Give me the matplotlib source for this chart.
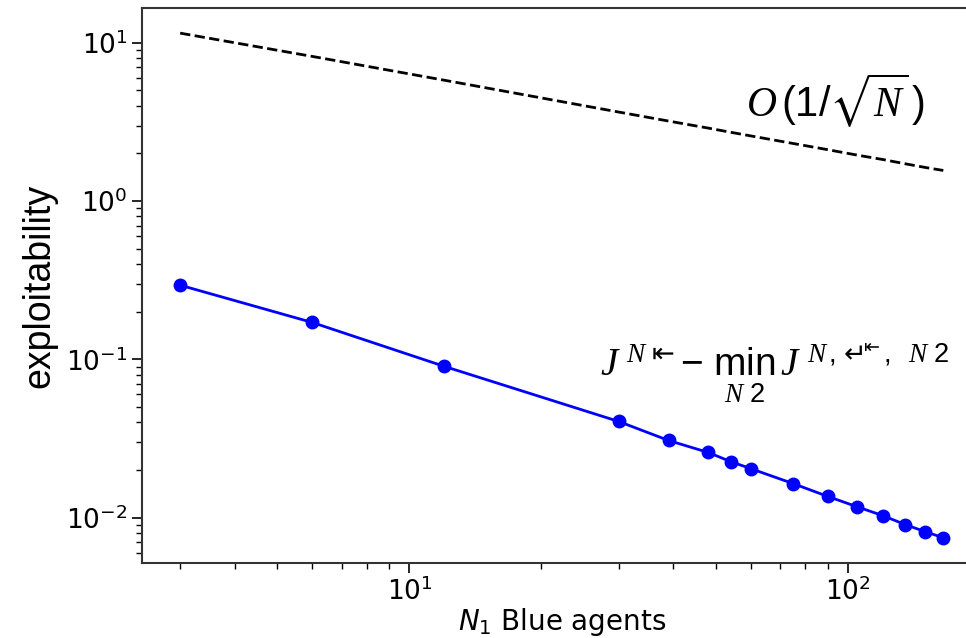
import matplotlib
matplotlib.use("Agg")
import matplotlib.pyplot as plt

# data
n_agents = [3, 6, 12, 30, 39, 48, 54, 60, 75, 90, 105, 120, 135, 150, 165]
exploitability = [0.294, 0.171, 0.0903, 0.0405, 0.0307, 0.0258, 0.0226, 0.0204,
                  0.0164, 0.0136, 0.0117, 0.0103, 0.00904, 0.00815, 0.00746]
bound = [11.5, 8.2, 5.8, 3.65, 3.2, 2.89, 2.72, 2.58, 2.31, 2.11, 1.95, 1.83,
         1.72, 1.63, 1.56]

bound_label = r"$O\,(1/\sqrt{N}\,)$"
curve_label = (r"$J^{\ N\ \mathsf{⇤}} -\,\min_{N\ 2}\, J^{\ N\,,\,\mathsf{↵}^{\!\mathsf{⇤}},"
               r"\ \ N\ 2}$")

plt.rcParams['mathtext.rm'] = 'Liberation Sans'
plt.rcParams['mathtext.it'] = 'Liberation Serif:italic'
plt.rcParams['mathtext.bf'] = 'Liberation Sans:bold'
plt.rcParams['mathtext.sf'] = 'DejaVu Sans'
plt.rcParams['mathtext.fallback'] = 'stixsans'

fig = plt.figure(figsize=(9.66, 6.38), dpi=100)
ax = fig.add_axes([0.147, 0.1176, 0.869, 0.870])

ax.plot(n_agents, bound, 'k--', lw=2)
ax.plot(n_agents, exploitability, 'o-', color='blue', lw=2, ms=9)
ax.set_xscale('log')
ax.set_yscale('log')

ax.tick_params(axis='both', which='major', labelsize=19, length=7, width=1.2)
ax.tick_params(axis='both', which='minor', length=4, width=1)
for s in ax.spines.values():
    s.set_linewidth(1.5)
    s.set_color('#333333')

ax.set_xlabel(r"$N_1$ Blue agents", fontsize=20, labelpad=0)
ax.set_ylabel("exploitability", fontsize=27, family='Liberation Sans', labelpad=6)

ax.text(0.719, 0.804, bound_label, transform=ax.transAxes, fontsize=30,
        va='baseline', math_fontfamily='custom')
ax.text(0.546, 0.335, curve_label, transform=ax.transAxes, fontsize=28,
        va='baseline', math_fontfamily='custom')

fig.savefig("out.png", dpi=100)
